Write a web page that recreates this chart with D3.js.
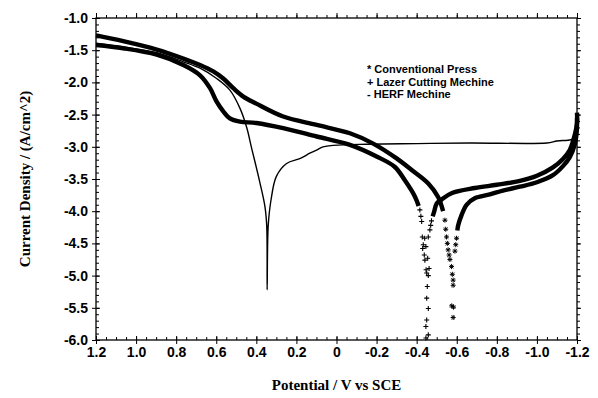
<!DOCTYPE html>
<html>
<head>
<meta charset="utf-8">
<script src="https://cdn.jsdelivr.net/npm/d3@7/dist/d3.min.js"></script>
<style>
  body { margin: 0; background: #fff; }
  .tick text { font-family: "Liberation Sans", Arial, sans-serif; font-weight: bold; font-size: 14px; fill: #000; }
</style>
</head>
<body>
<div id="chart"></div>
<script>
// axis ticks
const xTicks = [1.2, 1.0, 0.8, 0.6, 0.4, 0.2, 0, -0.2, -0.4, -0.6, -0.8, -1.0, -1.2];
const xTickLabels = ["1.2", "1.0", "0.8", "0.6", "0.4", "0.2", "0", "-0.2", "-0.4", "-0.6", "-0.8", "-1.0", "-1.2"];
const yTicks = [-1.0, -1.5, -2.0, -2.5, -3.0, -3.5, -4.0, -4.5, -5.0, -5.5, -6.0];
const yTickLabels = ["-1.0", "-1.5", "-2.0", "-2.5", "-3.0", "-3.5", "-4.0", "-4.5", "-5.0", "-5.5", "-6.0"];

const legendLabels = ["* Conventional Press", "+ Lazer Cutting Mechine", "- HERF Mechine"];

// [potential V, log current density]
// Conventional Press (*)
const convDown = [[1.2, -1.27], [1.064, -1.36], [0.897, -1.49], [0.764, -1.63], [0.681, -1.73], [0.615, -1.83],
    [0.565, -1.94], [0.515, -2.09], [0.465, -2.22], [0.40, -2.33], [0.266, -2.53], [0.099, -2.66], [-0.067, -2.79],
    [-0.183, -2.95], [-0.30, -3.18], [-0.375, -3.36], [-0.458, -3.57], [-0.507, -3.78], [-0.532, -4.00]];
const convTail = [[-0.541, -4.14], [-0.545, -4.28], [-0.549, -4.40], [-0.553, -4.50], [-0.557, -4.60],
    [-0.562, -4.68], [-0.566, -4.75], [-0.574, -4.86], [-0.578, -4.98], [-0.582, -5.07], [-0.582, -5.15],
    [-0.575, -5.47], [-0.584, -5.49], [-0.582, -5.65], [-0.591, -4.62], [-0.595, -4.52], [-0.599, -4.42]];
const convUp = [[-0.603, -4.30], [-0.607, -4.22], [-0.624, -4.06], [-0.649, -3.90], [-0.69, -3.80],
    [-0.765, -3.74], [-0.83, -3.68], [-0.915, -3.62], [-1.0, -3.55], [-1.08, -3.44], [-1.13, -3.30],
    [-1.164, -3.16], [-1.19, -2.95], [-1.199, -2.75], [-1.2, -2.55]];

// Lazer Cutting Machine (+)
const lazDown = [[1.2, -1.42], [1.064, -1.47], [0.897, -1.57], [0.764, -1.73], [0.681, -1.89], [0.631, -2.09],
    [0.598, -2.30], [0.565, -2.45], [0.532, -2.56], [0.482, -2.61], [0.40, -2.63], [0.266, -2.71], [0.099, -2.84],
    [-0.067, -2.97], [-0.20, -3.15], [-0.29, -3.31], [-0.341, -3.52], [-0.391, -3.77], [-0.41, -3.92]];
const lazTail = [[-0.416, -3.98], [-0.421, -4.08], [-0.425, -4.16], [-0.428, -4.40], [-0.44, -4.42],
    [-0.433, -4.52], [-0.43, -4.58], [-0.446, -4.55], [-0.438, -4.68], [-0.441, -4.76], [-0.455, -4.73],
    [-0.447, -4.91], [-0.462, -4.89], [-0.45, -4.96], [-0.458, -5.0], [-0.453, -5.17], [-0.45, -5.35],
    [-0.458, -5.51], [-0.45, -5.69], [-0.446, -5.79], [-0.458, -5.92], [-0.446, -5.97], [-0.458, -4.40],
    [-0.466, -4.29], [-0.47, -4.22], [-0.474, -4.15]];
const lazUp = [[-0.48, -4.08], [-0.487, -4.01], [-0.50, -3.88], [-0.524, -3.82], [-0.574, -3.72], [-0.69, -3.64],
    [-0.80, -3.59], [-0.915, -3.53], [-1.0, -3.45], [-1.08, -3.32], [-1.13, -3.19], [-1.164, -3.05],
    [-1.19, -2.80], [-1.2, -2.63], [-1.2, -2.47]];

// HERF Machine (thin line)
const herf = [[1.2, -1.39], [1.064, -1.45], [0.897, -1.54], [0.764, -1.68], [0.681, -1.78], [0.598, -1.94],
    [0.532, -2.12], [0.482, -2.40], [0.448, -2.70], [0.425, -3.0], [0.382, -3.56], [0.357, -3.93], [0.348, -4.24],
    [0.346, -5.22], [0.341, -4.24], [0.327, -3.83], [0.30, -3.46], [0.249, -3.26], [0.18, -3.18], [0.133, -3.10],
    [0.099, -3.05], [0.067, -3.0], [-0.03, -2.97], [-0.15, -2.96], [-0.40, -2.95], [-0.665, -2.94], [-1.05, -2.94],
    [-1.10, -2.91], [-1.17, -2.89], [-1.2, -2.85]];

const WIDTH = 598, HEIGHT = 398;
const margin = {top: 18, right: 21, bottom: 58, left: 96};

const svg = d3.select("#chart").append("svg")
    .attr("width", WIDTH)
    .attr("height", HEIGHT);

const x = d3.scaleLinear().domain([1.2, -1.2]).range([margin.left, WIDTH - margin.right]);
const y = d3.scaleLinear().domain([-6, -1]).range([HEIGHT - margin.bottom, margin.top]);

const xMinor = d3.range(-1.2, 1.2001, 0.05);
const yMinor = d3.range(-6, -0.999, 0.1);

function addAxis(axis, transform, labels) {
    const g = svg.append("g").attr("transform", transform).call(axis);
    g.select(".domain").remove();
    g.selectAll("line").attr("stroke", "#000").attr("stroke-width", 1);
    if (!labels) g.selectAll("text").remove();
    return g;
}

const bottomT = `translate(0,${y(-6)})`, topT = `translate(0,${y(-1)})`;
const leftT = `translate(${x(1.2)},0)`, rightT = `translate(${x(-1.2)},0)`;

// bottom
addAxis(d3.axisBottom(x).tickValues(xTicks).tickFormat((d, i) => xTickLabels[i]).tickSize(4).tickPadding(3), bottomT, true);
addAxis(d3.axisBottom(x).tickValues(xTicks).tickSize(-4), bottomT, false);
addAxis(d3.axisBottom(x).tickValues(xMinor).tickSize(-3), bottomT, false);
// left
addAxis(d3.axisLeft(y).tickValues(yTicks).tickFormat((d, i) => yTickLabels[i]).tickSize(4).tickPadding(4), leftT, true);
addAxis(d3.axisLeft(y).tickValues(yTicks).tickSize(-4), leftT, false);
addAxis(d3.axisLeft(y).tickValues(yMinor).tickSize(-3), leftT, false);
// top and right, outward ticks
addAxis(d3.axisTop(x).tickValues(xTicks).tickSize(5), topT, false);
addAxis(d3.axisTop(x).tickValues(xMinor).tickSize(3), topT, false);
addAxis(d3.axisRight(y).tickValues(yTicks).tickSize(4), rightT, false);
addAxis(d3.axisRight(y).tickValues(yMinor).tickSize(3), rightT, false);

// frame
svg.append("rect")
    .attr("x", x(1.2)).attr("y", y(-1))
    .attr("width", x(-1.2) - x(1.2)).attr("height", y(-6) - y(-1))
    .attr("fill", "none").attr("stroke", "#000").attr("stroke-width", 1.3);

const line = d3.line()
    .x(d => x(d[0]))
    .y(d => y(d[1]))
    .curve(d3.curveCatmullRom.alpha(0.5));

const plot = svg.append("g");

[convDown, convUp, lazDown, lazUp].forEach(seg => {
    plot.append("path")
        .attr("d", line(seg))
        .attr("fill", "none")
        .attr("stroke", "#000")
        .attr("stroke-width", 4.4)
        .attr("stroke-linejoin", "round")
        .attr("stroke-linecap", "butt");
});

plot.append("path")
    .attr("d", line(herf))
    .attr("fill", "none")
    .attr("stroke", "#000")
    .attr("stroke-width", 1.4)
    .attr("stroke-linejoin", "round");

const plusPath = "M-2.5,0H2.5M0,-2.5V2.5";
const starPath = "M-2.5,0H2.5M0,-2.5V2.5M-1.8,-1.8L1.8,1.8M-1.8,1.8L1.8,-1.8";

plot.selectAll(".plus")
    .data(lazTail)
    .join("path")
    .attr("class", "plus")
    .attr("transform", d => `translate(${x(d[0])},${y(d[1])})`)
    .attr("d", plusPath)
    .attr("stroke", "#000")
    .attr("stroke-width", 1.1)
    .attr("fill", "none");

plot.selectAll(".star")
    .data(convTail)
    .join("path")
    .attr("class", "star")
    .attr("transform", d => `translate(${x(d[0])},${y(d[1])})`)
    .attr("d", starPath)
    .attr("stroke", "#000")
    .attr("stroke-width", 1)
    .attr("fill", "none");

// legend text
svg.append("g")
    .selectAll("text")
    .data(legendLabels)
    .join("text")
    .attr("x", 367)
    .attr("y", (d, i) => 73 + i * 12.5)
    .attr("font-family", "'Liberation Sans', Arial, sans-serif")
    .attr("font-weight", "bold")
    .attr("font-size", 11)
    .text(d => d);

// axis titles
svg.append("text")
    .attr("x", (x(1.2) + x(-1.2)) / 2)
    .attr("y", 390)
    .attr("text-anchor", "middle")
    .attr("font-family", "'Liberation Serif', 'Times New Roman', serif")
    .attr("font-weight", "bold")
    .attr("font-size", 15)
    .text("Potential / V vs SCE");

svg.append("text")
    .attr("transform", `translate(30,${(y(-1) + y(-6)) / 2}) rotate(-90)`)
    .attr("text-anchor", "middle")
    .attr("font-family", "'Liberation Serif', 'Times New Roman', serif")
    .attr("font-weight", "bold")
    .attr("font-size", 15)
    .text("Current Density / (A/cm^2)");
</script>
</body>
</html>
